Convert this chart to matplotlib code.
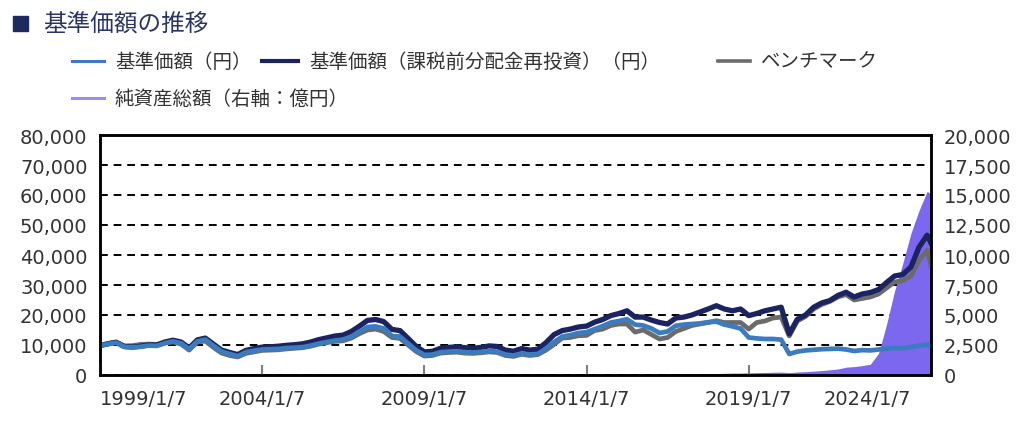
import matplotlib.pyplot as plt
import matplotlib.lines as mlines
import matplotlib.patches as mpatches
import pandas as pd

plt.rcParams['font.family'] = ['DejaVu Sans']
JP = ['Noto Sans CJK JP', 'DejaVu Sans']

# quarterly observations 1999/1/7 .. 2024/7/7, plus the last day shown
dates = list(pd.date_range('1999-01-07', '2024-07-07', freq=pd.DateOffset(months=3)))
dates.append(pd.Timestamp('2024-08-20'))

# 基準価額（円）
nav = [
    9800, 10300, 10800, 9400,    # 1999
    9200, 9400, 9800, 9700,      # 2000
    10600, 11200, 10600, 8600,   # 2001
    11200, 11800, 9800, 7800,    # 2002
    7000, 6300, 7600, 8100,      # 2003
    8500, 8600, 8700, 9000,      # 2004
    9100, 9300, 9800, 10500,     # 2005
    11000, 11500, 11800, 12800,  # 2006
    14500, 16000, 16200, 15500,  # 2007
    13000, 12800, 10500, 8200,   # 2008
    6700, 6800, 7600, 7800,      # 2009
    7900, 7600, 7500, 7700,      # 2010
    8000, 7800, 6800, 6500,      # 2011
    7200, 6800, 7000, 8800,      # 2012
    11000, 12800, 13300, 14000,  # 2013
    14300, 15300, 16300, 17500,  # 2014
    18000, 18600, 16800, 16500,  # 2015
    15500, 14000, 14500, 16400,  # 2016
    16800, 17000, 17200, 17600,  # 2017
    17800, 16800, 16200, 15500,  # 2018
    12500, 12200, 12000, 12000,  # 2019
    11800, 7000, 7800, 8200,     # 2020
    8400, 8600, 8700, 8800,      # 2021
    8500, 8000, 8300, 8200,      # 2022
    8500, 8800, 9000, 8900,      # 2023
    9300, 9800, 10100, 9700,     # 2024
]

# 基準価額（課税前分配金再投資）（円）
nav_reinv = [
    9800, 10400, 10900, 9500,
    9300, 9600, 10000, 10000,
    11000, 11600, 11000, 9000,
    11700, 12300, 10300, 8300,
    7500, 6800, 8200, 8800,
    9300, 9400, 9600, 9900,
    10100, 10400, 11000, 11800,
    12400, 13000, 13300, 14500,
    16300, 18200, 18500, 17800,
    15200, 14800, 12200, 9500,
    7700, 7900, 8900, 9200,
    9400, 9100, 8900, 9200,
    9700, 9500, 8300, 7900,
    8800, 8300, 8600, 10800,
    13500, 14800, 15300, 16000,
    16300, 17600, 18500, 19800,
    20500, 21400, 19300, 19300,
    18300, 17500, 17000, 19000,
    19300, 20000, 21000, 22000,
    23100, 22000, 21400, 22000,
    19800, 20500, 21400, 22000,
    22600, 13700, 18600, 20000,
    22600, 24000, 24800, 26500,
    27600, 26000, 27000, 27500,
    28500, 30800, 33000, 33500,
    36000, 42600, 46600, 44000,
]

# ベンチマーク
benchmark = [
    9800, 10500, 11000, 9700,
    9800, 10200, 10300, 10200,
    10700, 11000, 10300, 8300,
    11000, 11300, 9200, 7300,
    6500, 6000, 7200, 7700,
    8200, 8300, 8400, 8700,
    8900, 9100, 9600, 10300,
    10800, 11200, 11400, 12300,
    13800, 15000, 15300, 14500,
    12500, 12200, 10000, 7800,
    6300, 6500, 7300, 7500,
    7600, 7300, 7200, 7400,
    7700, 7500, 6500, 6200,
    6900, 6500, 6800, 8300,
    10200, 12300, 12500, 13100,
    13200, 14800, 15300, 16500,
    17000, 17000, 14300, 15000,
    13500, 12000, 12500, 14500,
    15500, 16500, 17000, 17500,
    18100, 17500, 17500, 17500,
    15300, 17500, 18000, 19000,
    19300, 13000, 18000, 19500,
    22000, 23500, 24500, 26000,
    26800, 25000, 25500, 26000,
    27000, 29000, 31000, 31500,
    33000, 38100, 41600, 36500,
]

# 純資産総額（億円）
aum = [
    20, 40, 60, 70,
    80, 90, 90, 90,
    90, 90, 90, 80,
    90, 90, 80, 70,
    60, 60, 60, 60,
    60, 60, 60, 60,
    60, 60, 60, 70,
    70, 70, 70, 70,
    80, 80, 80, 70,
    60, 60, 50, 40,
    30, 30, 30, 30,
    30, 30, 30, 30,
    30, 30, 30, 30,
    30, 30, 30, 30,
    30, 30, 40, 40,
    40, 40, 40, 50,
    50, 50, 50, 50,
    50, 50, 50, 60,
    70, 80, 90, 100,
    120, 140, 160, 160,
    180, 200, 210, 230,
    240, 200, 250, 280,
    320, 370, 430, 500,
    650, 700, 780, 900,
    1800, 4200, 7000, 9300,
    11800, 13700, 15300, 15100,
]

tick_dates = ['1999-01-07', '2004-01-07', '2009-01-07', '2014-01-07', '2019-01-07', '2024-01-07']
tick_labels = ['1999/1/7', '2004/1/7', '2009/1/7', '2014/1/7', '2019/1/7', '2024/1/7']

c_nav = '#3b7cbf'
c_reinv = '#1b2461'
c_bm = '#6b6b6b'
c_aum = '#7b68ee'
c_text = '#333333'

W, H = 1024, 431
fig = plt.figure(figsize=(W / 100, H / 100), dpi=100)

# right axis (fill + grid) sits underneath, left axis (lines) on top
ax2 = fig.add_axes([100 / W, 55 / H, 831 / W, 240 / H])
ax = fig.add_axes([100 / W, 55 / H, 831 / W, 240 / H], sharex=ax2)
ax.patch.set_visible(False)

ax2.fill_between(dates, aum, color=c_aum, lw=0, zorder=2)
ax2.set_ylim(0, 20000)
ax2.set_yticks(range(0, 20001, 2500))
ax2.set_yticklabels([f'{v:,}' for v in range(0, 20001, 2500)])
ax2.yaxis.tick_right()
ax2.set_axisbelow(True)
ax2.grid(axis='y', color='black', linestyle=(0, (4, 3)), lw=1.4)
ax2.tick_params(axis='y', length=0, pad=9, labelsize=14, labelcolor=c_text)
ax2.tick_params(axis='x', bottom=False, labelbottom=False)

ax.plot(dates, benchmark, color=c_bm, lw=3.4, solid_joinstyle='round')
ax.plot(dates, nav_reinv, color=c_reinv, lw=3.8, solid_joinstyle='round')
ax.plot(dates, nav, color=c_nav, lw=3.4, solid_joinstyle='round')
ax.set_ylim(0, 80000)
ax.set_yticks(range(0, 80001, 10000))
ax.set_yticklabels([f'{v:,}' for v in range(0, 80001, 10000)])
ax.tick_params(axis='y', length=0, pad=9, labelsize=14, labelcolor=c_text)

ax.set_xlim(pd.Timestamp('1999-01-07'), pd.Timestamp('2024-08-20'))
ax.set_xticks([pd.Timestamp(d) for d in tick_dates])
ax.set_xticklabels(tick_labels)
ax.tick_params(axis='x', direction='in', length=7, width=1.5, color='#808080',
               pad=10, labelsize=14, labelcolor=c_text)
xt = ax.get_xticklabels()
xt[0].set_ha('left')
xt[-1].set_ha('right')
ax.xaxis.get_major_ticks()[-1].tick1line.set_visible(False)

for a in (ax, ax2):
    for s in a.spines.values():
        s.set_color('black')
        s.set_linewidth(1.8)

# title
fig.add_artist(mpatches.Rectangle((13 / W, 1 - 32 / H), 15 / W, 15 / H,
                                  transform=fig.transFigure, color='#1c2a5e'))
fig.text(43 / W, 1 - 24 / H, '基準価額の推移', family=JP, fontsize=17,
         color='#2a3563', va='center', ha='left')

# legend
legend_items = [
    (72, 104, 62, c_nav, 2.2, '基準価額（円）'),
    (262, 298, 62, c_reinv, 3.0, '基準価額（課税前分配金再投資）（円）'),
    (718, 750, 62, c_bm, 2.6, 'ベンチマーク'),
    (72, 104, 99, '#9a8cf0', 2.2, '純資産総額（右軸：億円）'),
]
for x0, x1, y, col, lw, label in legend_items:
    fig.add_artist(mlines.Line2D([x0 / W, x1 / W], [1 - y / H, 1 - y / H],
                                 transform=fig.transFigure, color=col, lw=lw))
    fig.text((x1 + 11) / W, 1 - y / H, label, family=JP, fontsize=14,
             color=c_text, va='center', ha='left')

fig.savefig('out.png', dpi=100)
